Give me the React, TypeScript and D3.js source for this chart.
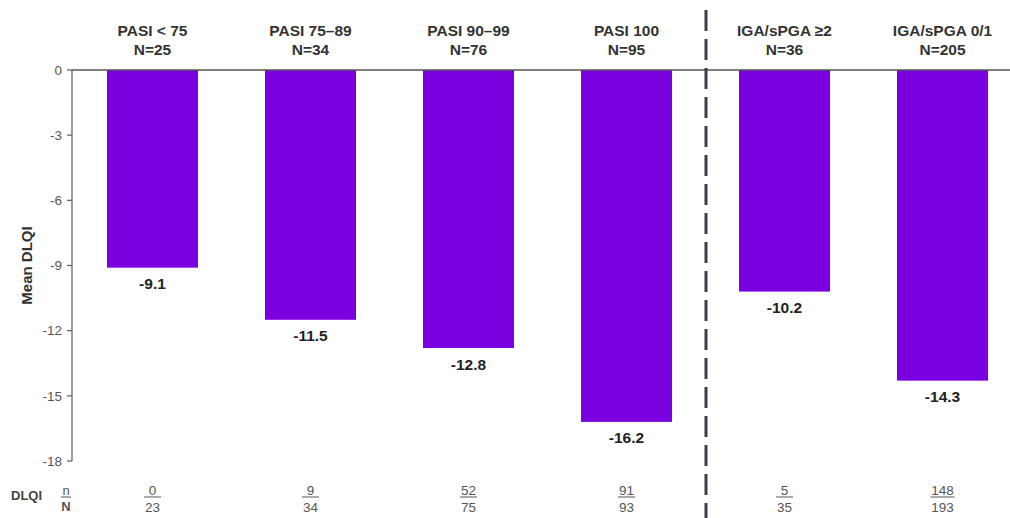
import React from "react";
import * as d3 from "d3";

const categories = ["PASI < 75", "PASI 75–89", "PASI 90–99", "PASI 100", "IGA/sPGA ≥2", "IGA/sPGA 0/1"];
const groupN = [25, 34, 76, 95, 36, 205];
const meanDLQI = [-9.1, -11.5, -12.8, -16.2, -10.2, -14.3];
const dlqiN01 = [0, 9, 52, 91, 5, 148];
const dlqiTotal = [23, 34, 75, 93, 35, 193];
const yTicks = [0, -3, -6, -9, -12, -15, -18];

const W = 1010;
const H = 518;
const FONT = "'Liberation Sans', Arial, sans-serif";
const BAR = "#7a00df";

export default function App() {
  const x = d3
    .scaleBand<string>()
    .domain(categories)
    .range([73, 1022])
    .paddingInner(0.424)
    .paddingOuter(0.215);
  const y = d3.scaleLinear().domain([0, -18]).range([70, 461]);
  const bw = x.bandwidth();
  const axisX = 72;
  const dividerX = 706;

  return (
    <svg width={W} height={H} style={{ position: "absolute", left: 0, top: 0, background: "#fff" }} fontFamily={FONT}>
      {/* bars */}
      {categories.map((c, i) => (
        <rect key={c} x={x(c)} y={y(0)} width={bw} height={y(meanDLQI[i]) - y(0)} fill={BAR} />
      ))}
      {/* top baseline */}
      <line x1={axisX} x2={W} y1={y(0)} y2={y(0)} stroke="#555" strokeWidth={1.3} />
      {/* y axis */}
      <line x1={axisX} x2={axisX} y1={y(0)} y2={y(-18)} stroke="#666" strokeWidth={1.3} />
      {yTicks.map((t) => (
        <g key={t}>
          <line x1={axisX - 5} x2={axisX} y1={y(t)} y2={y(t)} stroke="#666" strokeWidth={1.3} />
          <text x={axisX - 10} y={y(t)} dy="0.35em" textAnchor="end" fontSize={13.5} fill="#555">
            {t}
          </text>
        </g>
      ))}
      <text
        transform={`translate(32,${(y(0) + y(-18)) / 2}) rotate(-90)`}
        textAnchor="middle"
        fontSize={15}
        fontWeight="bold"
        fill="#333"
      >
        Mean DLQI
      </text>
      {/* headers */}
      {categories.map((c, i) => {
        const cx = (x(c) as number) + bw / 2;
        return (
          <g key={"h" + c}>
            <text x={cx} y={36} textAnchor="middle" fontSize={15.5} fontWeight="bold" fill="#333">
              {c}
            </text>
            <text x={cx} y={55} textAnchor="middle" fontSize={15.5} fontWeight="bold" fill="#333">
              {"N=" + groupN[i]}
            </text>
          </g>
        );
      })}
      {/* value labels */}
      {categories.map((c, i) => {
        const cx = (x(c) as number) + bw / 2;
        return (
          <text key={"v" + c} x={cx} y={y(meanDLQI[i]) + 21.5} textAnchor="middle" fontSize={15.5} fontWeight="bold" fill="#222">
            {meanDLQI[i].toFixed(1)}
          </text>
        );
      })}
      {/* divider */}
      <line x1={dividerX} x2={dividerX} y1={10} y2={H} stroke="#3a3f4a" strokeWidth={3} strokeDasharray="21 8" />
      {/* DLQI n/N row */}
      <text x={11} y={500} fontSize={13} fontWeight="bold" fill="#444">DLQI</text>
      <text x={66} y={495} textAnchor="middle" fontSize={13} fill="#555">n</text>
      <line x1={61} x2={71} y1={497} y2={497} stroke="#555" strokeWidth={1} />
      <text x={66} y={511} textAnchor="middle" fontSize={13} fontWeight="bold" fill="#555">N</text>
      {categories.map((c, i) => {
        const cx = (x(c) as number) + bw / 2;
        const s = String(dlqiN01[i]);
        const hw = Math.max(s.length * 3.7, 7.5);
        return (
          <g key={"f" + c}>
            <text x={cx} y={495} textAnchor="middle" fontSize={13.5} fill="#555">
              {s}
            </text>
            <line x1={cx - hw - 1} x2={cx + hw + 1} y1={497} y2={497} stroke="#555" strokeWidth={1} />
            <text x={cx} y={512} textAnchor="middle" fontSize={13.5} fill="#555">
              {dlqiTotal[i]}
            </text>
          </g>
        );
      })}
    </svg>
  );
}
